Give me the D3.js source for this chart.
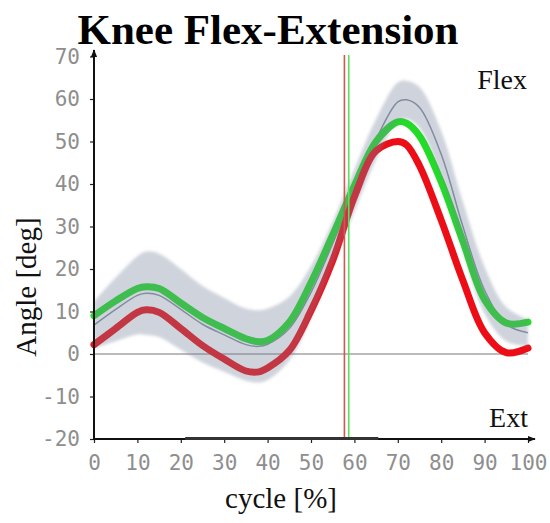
<!DOCTYPE html>
<html>
<head>
<meta charset="utf-8">
<script src="https://cdn.jsdelivr.net/npm/d3@7"></script>
<style>
html,body{margin:0;padding:0;background:#fff;}
svg{display:block;}
</style>
</head>
<body>
<svg id="chart" width="550" height="523"></svg>
<script>
// ---- data ----
const cycle      = [0, 5, 10, 12, 15, 20, 25, 30, 35, 38, 40, 45, 50, 55, 60, 65, 70, 72, 75, 80, 85, 90, 95, 100];
const greenAngle = [9.0, 12.5, 15.4, 15.8, 15.4, 12.0, 8.6, 6.0, 3.6, 2.9, 3.2, 7.5, 16.8, 28.0, 39.6, 50.0, 54.6, 54.3, 51.3, 40.5, 26.5, 12.8, 7.3, 7.5];
const redAngle   = [2.2, 6.0, 9.8, 10.4, 9.8, 6.0, 2.0, -1.2, -4.0, -4.2, -3.3, 0.8, 10.2, 22.0, 37.0, 47.8, 50.0, 49.2, 44.3, 31.5, 17.3, 5.0, 0.3, 1.4];
const meanAngle  = [6.8, 10.5, 13.8, 14.3, 13.8, 10.5, 7.0, 4.5, 2.2, 1.8, 2.3, 6.0, 14.5, 26.0, 38.5, 50.5, 59.3, 59.8, 58.0, 47.0, 30.0, 15.0, 7.0, 5.0];
const sdAngle    = [5.5, 7.5, 9.2, 9.8, 9.8, 9.5, 9.0, 8.7, 8.5, 8.5, 8.4, 7.5, 6.2, 5.2, 5.0, 4.8, 4.6, 4.5, 4.8, 5.5, 5.8, 5.5, 4.0, 3.2];
const toeOffRed   = 57.7;
const toeOffGreen = 58.7;
const axisBarSpan = [21, 65.5];
const xTicks = [0, 10, 20, 30, 40, 50, 60, 70, 80, 90, 100];
const yTicks = [-20, -10, 0, 10, 20, 30, 40, 50, 60, 70];
const title = "Knee Flex-Extension";
const xLabel = "cycle [%]";
const yLabel = "Angle [deg]";

// ---- chart ----
const svg = d3.select("#chart");
const x = d3.scaleLinear().domain([0, 100]).range([94, 528]);
const y = d3.scaleLinear().domain([-20, 70]).range([439, 56.5]);

const defs = svg.append("defs");
defs.append("marker").attr("id", "arrow").attr("viewBox", "0 0 10 10")
  .attr("refX", 9).attr("refY", 5).attr("markerWidth", 4).attr("markerHeight", 4)
  .attr("markerUnits", "strokeWidth").attr("orient", "auto")
  .append("path").attr("d", "M0,1 L10,5 L0,9 z").attr("fill", "#111");
defs.append("filter").attr("id", "soft").attr("x", "-5%").attr("y", "-5%").attr("width", "110%").attr("height", "110%")
  .append("feGaussianBlur").attr("stdDeviation", 1.6);
defs.append("filter").attr("id", "soft2")
  .append("feGaussianBlur").attr("stdDeviation", 0.6);

const rows = cycle.map((c, i) => ({c, g: greenAngle[i], r: redAngle[i], m: meanAngle[i], s: sdAngle[i]}));
const curve = d3.curveCatmullRom.alpha(0.5);

// zero line
svg.append("line").attr("x1", x(0)).attr("x2", x(100)).attr("y1", y(0)).attr("y2", y(0))
  .attr("stroke", "#777").attr("stroke-width", 1);

// mean line
svg.append("path").datum(rows)
  .attr("d", d3.line().x(d => x(d.c)).y(d => y(d.m)).curve(curve))
  .attr("fill", "none").attr("stroke", "#8a8fa6").attr("stroke-width", 1.5);

// green & red curves
svg.append("path").datum(rows)
  .attr("d", d3.line().x(d => x(d.c)).y(d => y(d.g)).curve(curve))
  .attr("fill", "none").attr("stroke", "#22dc26").attr("stroke-width", 7).attr("stroke-linecap", "round")
  .attr("filter", "url(#soft2)");
svg.append("path").datum(rows)
  .attr("d", d3.line().x(d => x(d.c)).y(d => y(d.r)).curve(curve))
  .attr("fill", "none").attr("stroke", "#ec0f14").attr("stroke-width", 7).attr("stroke-linecap", "round")
  .attr("filter", "url(#soft2)");

// SD band on top (semi-transparent)
svg.append("path").datum(rows)
  .attr("d", d3.area().x(d => x(d.c)).y0(d => y(d.m - d.s)).y1(d => y(d.m + d.s)).curve(curve))
  .attr("fill", "#76809a").attr("fill-opacity", 0.35).attr("filter", "url(#soft)");

// vertical event lines
svg.append("line").attr("x1", x(toeOffRed)).attr("x2", x(toeOffRed)).attr("y1", 55).attr("y2", y(-20))
  .attr("stroke", "#d0584e").attr("stroke-width", 1.6);
svg.append("line").attr("x1", x(toeOffGreen)).attr("x2", x(toeOffGreen)).attr("y1", 55).attr("y2", y(-20))
  .attr("stroke", "#5ce05c").attr("stroke-width", 1.6);

// axes
const yAxis = svg.append("g").attr("transform", `translate(${x(0)},0)`)
  .call(d3.axisLeft(y).tickValues(yTicks).tickSize(4).tickPadding(10).tickFormat(d => d));
yAxis.select(".domain").remove();
const xAxis = svg.append("g").attr("transform", `translate(0,${y(-20)})`)
  .call(d3.axisBottom(x).tickValues(xTicks).tickSize(4).tickPadding(12).tickFormat(d => d));
xAxis.select(".domain").remove();
[yAxis, xAxis].forEach(a => {
  a.selectAll(".tick line").attr("stroke", "#222").attr("stroke-width", 1.2);
  a.selectAll(".tick text").attr("fill", "#8e8e8e")
    .style("font-family", "'DejaVu Sans Mono', monospace").style("font-size", "21px");
});
xAxis.selectAll(".tick text").attr("dy", "0.71em");

svg.append("line").attr("x1", x(0)).attr("x2", x(0)).attr("y1", y(-20) + 1).attr("y2", 50)
  .attr("stroke", "#111").attr("stroke-width", 2).attr("marker-end", "url(#arrow)");
svg.append("line").attr("x1", x(0) - 1).attr("x2", 535).attr("y1", y(-20)).attr("y2", y(-20))
  .attr("stroke", "#111").attr("stroke-width", 2).attr("marker-end", "url(#arrow)");
svg.append("line").attr("x1", x(axisBarSpan[0])).attr("x2", x(axisBarSpan[1]))
  .attr("y1", y(-20) - 0.5).attr("y2", y(-20) - 0.5)
  .attr("stroke", "#333").attr("stroke-width", 3);

// texts
const serif = "'Liberation Serif', 'Times New Roman', serif";
svg.append("text").attr("x", 268).attr("y", 44).attr("text-anchor", "middle")
  .style("font-family", serif).style("font-weight", "bold")
  .style("font-size", "43px").attr("fill", "#000").text(title);
svg.append("text").attr("transform", "translate(36,287) rotate(-90)").attr("text-anchor", "middle")
  .style("font-family", serif).style("font-size", "29px").attr("fill", "#111").text(yLabel);
svg.append("text").attr("x", 281).attr("y", 508).attr("text-anchor", "middle")
  .style("font-family", serif).style("font-size", "29px").attr("fill", "#111").text(xLabel);
svg.append("text").attr("x", 527).attr("y", 89).attr("text-anchor", "end")
  .style("font-family", serif).style("font-size", "28px").attr("fill", "#111").text("Flex");
svg.append("text").attr("x", 528).attr("y", 427).attr("text-anchor", "end")
  .style("font-family", serif).style("font-size", "28px").attr("fill", "#111").text("Ext");
</script>
</body>
</html>
